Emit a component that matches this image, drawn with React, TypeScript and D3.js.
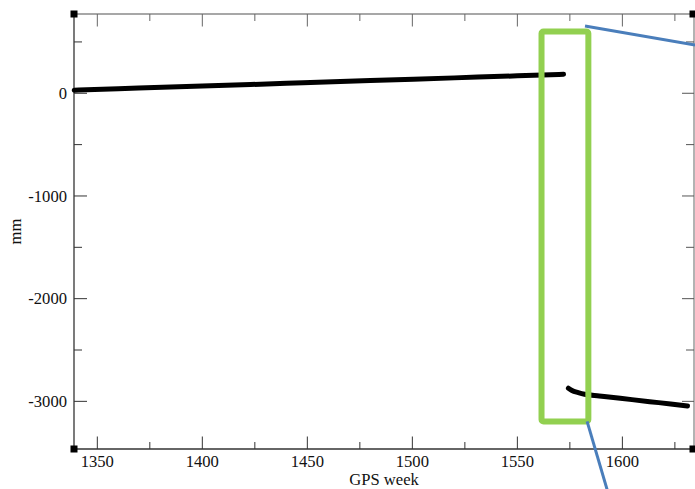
import React from "react";
import * as d3 from "d3";

// Station height time series (mm) against GPS week, before and after the offset
const weeksBefore = [1339, 1360, 1400, 1440, 1480, 1520, 1550, 1572];
const mmBefore = [30, 44, 70, 97, 124, 150, 170, 185];

const weeksAfter = [1574.3, 1576, 1579, 1582, 1589, 1599, 1613, 1623, 1631];
const mmAfter = [-2872, -2895, -2915, -2931, -2947, -2970, -3003, -3025, -3045];

const xTicks = [1350, 1400, 1450, 1500, 1550, 1600];
const yTicks = [0, -1000, -2000, -3000];

// Highlight box around the offset and its callout leaders (data units)
const boxWeeks = [1561.5, 1583.8];
const boxMm = [602, -3195];
const leaderTopWeeks = [1582.2, 1634.6];
const leaderTopMm = [655, 470];
const leaderBottomWeeks = [1583.2, 1592.7];
const leaderBottomMm = [-3195, -3857];

const W = 695;
const H = 489;
const left = 74;
const right = 694;
const top = 14;
const bottom = 449;

export default function App() {
  const x = d3.scaleLinear().domain([1338.9, 1634.1]).range([left, right]);
  const y = d3.scaleLinear().domain([772, -3464]).range([top, bottom]);

  const line = d3
    .line<[number, number]>()
    .x((d) => x(d[0]))
    .y((d) => y(d[1]))
    .curve(d3.curveMonotoneX);

  const before = weeksBefore.map((w, i) => [w, mmBefore[i]] as [number, number]);
  const after = weeksAfter.map((w, i) => [w, mmAfter[i]] as [number, number]);

  const xMinor = d3.range(1375, 1634, 50);
  const yMinor = [500, -500, -1500, -2500];

  const font = "'Liberation Serif', 'DejaVu Serif', serif";
  const axisDark = "#333";
  const axisLight = "#8a8a8a";

  const straight = d3.line<[number, number]>().x((d) => x(d[0])).y((d) => y(d[1]));

  return (
    <svg
      width={W}
      height={H}
      style={{ position: "absolute", left: 0, top: 0, background: "#fff" }}
      fontFamily={font}
    >
      {/* frame */}
      <line x1={left} x2={right} y1={top} y2={top} stroke={axisLight} strokeWidth={1.3} />
      <line x1={right} x2={right} y1={top} y2={bottom} stroke={axisLight} strokeWidth={1.3} />
      <line x1={left} x2={left} y1={top} y2={bottom} stroke={axisDark} strokeWidth={1.3} />
      <line x1={left} x2={right} y1={bottom} y2={bottom} stroke={axisDark} strokeWidth={1.3} />

      {/* x ticks */}
      {xTicks.map((t) => (
        <g key={"xt" + t}>
          <line x1={x(t)} x2={x(t)} y1={bottom} y2={bottom - 12.5} stroke={axisDark} strokeWidth={1} />
          <line x1={x(t)} x2={x(t)} y1={top} y2={top + 12.5} stroke="#666" strokeWidth={1} />
          <text x={x(t)} y={467} textAnchor="middle" fontSize={16.6} fill="#111">
            {t}
          </text>
        </g>
      ))}
      {xMinor.map((t) => (
        <g key={"xm" + t}>
          <line x1={x(t)} x2={x(t)} y1={bottom} y2={bottom - 7} stroke={axisDark} strokeWidth={1} />
          <line x1={x(t)} x2={x(t)} y1={top} y2={top + 7} stroke="#666" strokeWidth={1} />
        </g>
      ))}

      {/* y ticks */}
      {yTicks.map((t) => (
        <g key={"yt" + t}>
          <line x1={left} x2={left + 13} y1={y(t)} y2={y(t)} stroke={axisDark} strokeWidth={1} />
          <line x1={right} x2={right - 12} y1={y(t)} y2={y(t)} stroke="#555" strokeWidth={1} />
          <text x={67} y={y(t) + 5.6} textAnchor="end" fontSize={16.6} fill="#111">
            {t}
          </text>
        </g>
      ))}
      {yMinor.map((t) => (
        <g key={"ym" + t}>
          <line x1={left} x2={left + 8} y1={y(t)} y2={y(t)} stroke={axisDark} strokeWidth={1} />
          <line x1={right} x2={right - 8} y1={y(t)} y2={y(t)} stroke="#555" strokeWidth={1} />
        </g>
      ))}

      {/* corner markers */}
      {[
        [left, top],
        [left, bottom],
        [right - 1, top],
        [right - 1, bottom],
      ].map(([cx, cy], i) => (
        <rect key={"c" + i} x={cx - 3.5} y={cy - 3.5} width={7} height={7} fill="#000" />
      ))}

      {/* axis titles */}
      <text x={384} y={485} textAnchor="middle" fontSize={16.6} fill="#111">
        GPS week
      </text>
      <text
        transform={`translate(21, ${(top + bottom) / 2}) rotate(-90)`}
        textAnchor="middle"
        fontSize={16.6}
        fill="#111"
      >
        mm
      </text>

      {/* series */}
      <path d={line(before) ?? ""} fill="none" stroke="#000" strokeWidth={5} strokeLinecap="round" />
      <path d={line(after) ?? ""} fill="none" stroke="#000" strokeWidth={5} strokeLinecap="round" />

      {/* highlight box and callout leaders */}
      <rect
        x={x(boxWeeks[0])}
        y={y(boxMm[0])}
        width={x(boxWeeks[1]) - x(boxWeeks[0])}
        height={y(boxMm[1]) - y(boxMm[0])}
        fill="none"
        stroke="#92d050"
        strokeWidth={6}
        rx={2}
      />
      <path
        d={straight([[leaderTopWeeks[0], leaderTopMm[0]], [leaderTopWeeks[1], leaderTopMm[1]]]) ?? ""}
        stroke="#4a7ebb"
        strokeWidth={3}
        fill="none"
      />
      <path
        d={
          straight([
            [leaderBottomWeeks[0], leaderBottomMm[0]],
            [leaderBottomWeeks[1], leaderBottomMm[1]],
          ]) ?? ""
        }
        stroke="#4a7ebb"
        strokeWidth={3}
        fill="none"
      />
    </svg>
  );
}
